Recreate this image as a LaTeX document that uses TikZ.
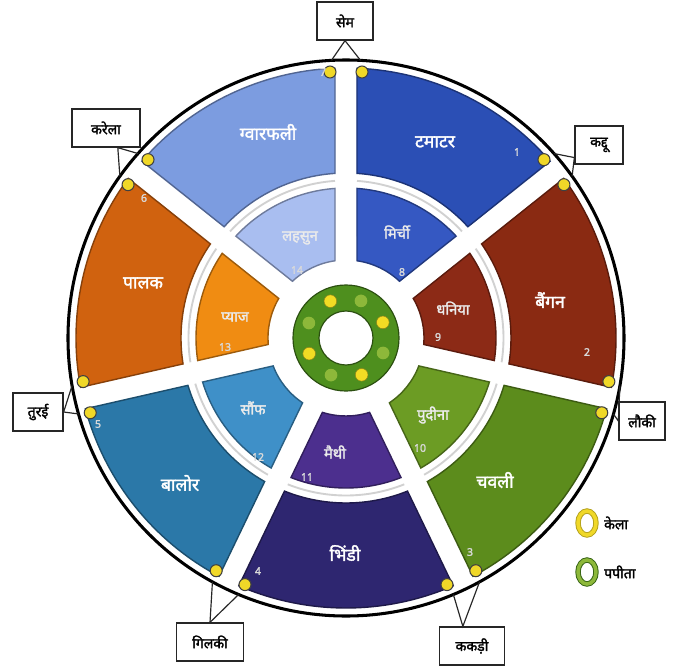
\documentclass[tikz,border=0pt]{standalone}
\usepackage{fontspec}
\newfontfamily\deva[Script=Devanagari]{Noto Sans}
\newfontfamily\devab[Script=Devanagari,FakeBold=2]{Noto Sans}
\usetikzlibrary{calc}

\definecolor{tamatar}{HTML}{2B4FB5}
\definecolor{baingan}{HTML}{8A2A12}
\definecolor{chavli}{HTML}{5C8C1C}
\definecolor{bhindi}{HTML}{2E2670}
\definecolor{balor}{HTML}{2B78A8}
\definecolor{palak}{HTML}{D0620F}
\definecolor{gwar}{HTML}{7C9CE0}
\definecolor{mirchi}{HTML}{3558C2}
\definecolor{dhaniya}{HTML}{8C2A16}
\definecolor{pudina}{HTML}{6C9C24}
\definecolor{methi}{HTML}{4C2F8E}
\definecolor{saunf}{HTML}{3F90C8}
\definecolor{pyaz}{HTML}{F08C12}
\definecolor{lahsun}{HTML}{A9BEF0}
\definecolor{ringgreen}{HTML}{4E8F1E}
\definecolor{kela}{HTML}{F0D828}
\definecolor{papita}{HTML}{8DB83A}

\begin{document}
\begin{tikzpicture}[x=0.03cm,y=0.03cm,
	vlabel/.style={font=\devab\fontsize{15}{17}\selectfont,text=white},
	ilabel/.style={font=\devab\fontsize{12.5}{14}\selectfont,text=white!92!black},
	numlabel/.style={font=\devab\fontsize{9}{10}\selectfont,text=white!85!black},
	tagbox/.style={draw=black!85,line width=1.1pt,fill=white,inner sep=2pt,
		font=\devab\fontsize{12}{14}\selectfont,minimum height=1.14cm},
	pointer/.style={line width=1pt,black!85},
	cornerdot/.style={circle,fill=kela,draw=black!75,line width=0.9pt,
		minimum size=0.36cm,inner sep=0pt}]
	\fill[white] (-346,-328) rectangle (331,338);
	\useasboundingbox (-346,-328) rectangle (331,338);
	% sectors, outer and inner ring
	\foreach \k/\oc/\ic in {0/tamatar/mirchi,1/baingan/dhaniya,2/chavli/pudina,
		3/bhindi/methi,4/balor/saunf,5/palak/pyaz,6/gwar/lahsun}{
		\pgfmathsetmacro\a{90-\k*360/7}
		\pgfmathsetmacro\b{\a-360/7}
		\pgfmathsetmacro\p{asin(11/270)}
		\pgfmathsetmacro\q{asin(11/165)}
		\filldraw[fill=\oc,draw=\oc!65!black,line width=1.2pt]
			(\a-\p:270) arc[start angle=\a-\p,end angle=\b+\p,radius=270]
			-- (\b+\q:165) arc[start angle=\b+\q,end angle=\a-\q,radius=165] -- cycle;
		\pgfmathsetmacro\p{asin(11/150)}
		\pgfmathsetmacro\q{asin(11/78)}
		\filldraw[fill=\ic,draw=\ic!65!black,line width=1.2pt]
			(\a-\p:150) arc[start angle=\a-\p,end angle=\b+\p,radius=150]
			-- (\b+\q:78) arc[start angle=\b+\q,end angle=\a-\q,radius=78] -- cycle;
		\pgfmathsetmacro\g{asin(11/157.5)}
		\draw[black!18,line width=1.6pt]
			(\a-\g:157.5) arc[start angle=\a-\g,end angle=\b+\g,radius=157.5];
	}
	% outer rim
	\draw[black,line width=2.6pt] (0,0) circle (278);
	% dots and pointer ends at each spoke
	\foreach \k in {0,...,6}{
		\pgfmathsetmacro\a{90-\k*360/7}
		\node[cornerdot] (dotL\k) at ($(\a:266)+(\a+90:16)$) {};
		\node[cornerdot] (dotR\k) at ($(\a:266)+(\a-90:16)$) {};
		\coordinate (tipL\k) at (\a+3:278);
		\coordinate (tipR\k) at (\a-3:278);
	}
	% centre ring
	\filldraw[fill=ringgreen,draw=ringgreen!55!black,line width=1pt] (0,0) circle (53);
	\filldraw[fill=white,draw=ringgreen!55!black,line width=1pt] (0,0) circle (27);
	\foreach \i in {0,...,7}{
		\pgfmathsetmacro\c{113-\i*45}
		\ifodd\i
			\node[circle,fill=papita,inner sep=0pt,minimum size=0.38cm] (seed\i) at (\c:40) {};
		\else
			\node[circle,fill=kela!90!yellow,draw=kela!60!black,line width=0.4pt,
				inner sep=0pt,minimum size=0.38cm] (seed\i) at (\c:40) {};
		\fi
	}
	% outer labels
	\node[vlabel] (gwarL) at (-78,206) {ग्वारफली};
	\node[vlabel] (tamatarL) at (89,196) {टमाटर};
	\node[vlabel] (bainganL) at (204,38) {बैंगन};
	\node[vlabel] (chavliL) at (149,-142) {चवली};
	\node[vlabel] (bhindiL) at (-1,-215) {भिंडी};
	\node[vlabel] (balorL) at (-166,-145) {बालोर};
	\node[vlabel] (palakL) at (-203,55) {पालक};
	% inner labels
	\node[ilabel] (lahsunL) at (-46,100) {लहसुन};
	\node[ilabel] (mirchiL) at (51,106) {मिर्ची};
	\node[ilabel] (dhaniyaL) at (107,30) {धनिया};
	\node[ilabel] (pudinaL) at (87,-77) {पुदीना};
	\node[ilabel] (methiL) at (-11,-114) {मैथी};
	\node[ilabel] (saunfL) at (-93,-70) {सौंफ};
	\node[ilabel] (pyazL) at (-111,21) {प्याज};
	% numbers
	\foreach \n/\pos in {1/{(171,186)},2/{(241,-14)},3/{(124,-214)},4/{(-88,-233)},
		5/{(-248,-86)},6/{(-202,140)},7/{(-23,266)},8/{(56,66)},9/{(92,1)},
		10/{(74,-110)},11/{(-39,-139)},12/{(-88,-119)},13/{(-121,-9)},14/{(-49,68)}}
		\node[numlabel] (num\n) at \pos {\n};
	% tags round the rim
	\node[tagbox,minimum width=1.68cm] (sem) at (-1,317) {सेम};
	\node[tagbox,minimum width=1.44cm] (kaddu) at (253,193) {कद्दू};
	\node[tagbox,minimum width=1.38cm] (lauki) at (296,-83) {लौकी};
	\node[tagbox,minimum width=1.95cm] (kakdi) at (126,-308) {ककड़ी};
	\node[tagbox,minimum width=2.0cm] (gilki) at (-136,-304) {गिलकी};
	\node[tagbox,minimum width=1.5cm] (turai) at (-308,-74) {तुरई};
	\node[tagbox,minimum width=2.04cm] (karela) at (-240,210) {करेला};
	\draw[pointer] (tipL0) -- (sem.south) -- (tipR0);
	\draw[pointer] (tipL1) -- (kaddu.207) -- (tipR1);
	\draw[pointer] (tipL2) -- (lauki.west) -- (tipR2);
	\draw[pointer] (tipL3) -- (kakdi.115) -- (tipR3);
	\draw[pointer] (tipL4) -- (gilki.north) -- (tipR4);
	\draw[pointer] (tipL5) -- (turai.east) -- (tipR5);
	\draw[pointer] (tipL6) -- (karela.-59) -- (tipR6);
	% legend
	\draw[kela!75!black,line width=4.6pt] (241,-185) ellipse[x radius=9,y radius=12];
	\draw[kela,line width=3pt] (241,-185) ellipse[x radius=9,y radius=12];
	\node[font=\devab\fontsize{12}{14}\selectfont,anchor=west] (kelaL) at (254,-185) {केला};
	\draw[ringgreen!70!black,line width=4.6pt] (241,-234) ellipse[x radius=9,y radius=12];
	\draw[papita,line width=3pt] (241,-234) ellipse[x radius=9,y radius=12];
	\node[font=\devab\fontsize{12}{14}\selectfont,anchor=west] (papitaL) at (254,-234) {पपीता};
\end{tikzpicture}
\end{document}
